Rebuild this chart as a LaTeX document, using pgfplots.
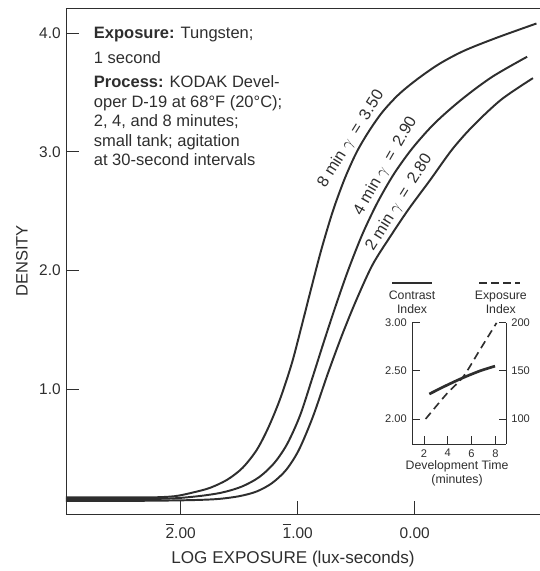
\documentclass[border=0pt]{standalone}
\usepackage{fontspec}
\setmainfont{Liberation Sans}
\usepackage{pgfplots}
\pgfplotsset{compat=1.18}

% digit with a bar over it (negative characteristic of a log)
\newcommand{\bard}[1]{\makebox[0pt][l]{\rule[0.86em]{0.54em}{0.06em}}#1}

\colorlet{ink}{black!82}

\pgfplotsset{
  curve/.style={ink, line width=1.3pt, smooth, tension=0.5},
  inset/.style={
    at={(230.7pt,46.7pt)}, anchor=south west,
    scale only axis, width=62.7pt, height=80.7pt,
    xmin=1, xmax=8.9, clip=false,
    axis line style={ink, line width=0.6pt},
    tick style={ink, line width=0.6pt},
    tick align=inside, major tick length=5pt,
    ticklabel style={font=\fontsize{7.4}{9}\selectfont, text=ink},
  },
}

\begin{document}
\begin{tikzpicture}
\useasboundingbox (-44pt,-38pt) rectangle (316pt,342.67pt);

\begin{axis}[
    at={(0,0)}, anchor=south west,
    scale only axis, width=316pt, height=337.3pt,
    xmin=-2.98, xmax=1.07, ymin=-0.05, ymax=4.21,
    axis x line*=bottom, axis y line*=left,
    axis line style={ink, line width=0.6pt},
    xtick={-2,-1,0}, xticklabels={\bard{2}.00,\bard{1}.00,0.00},
    ytick={1,2,3,4}, yticklabels={1.0,2.0,3.0,4.0},
    tick align=inside, major tick length=9pt,
    tick style={ink, line width=0.6pt},
    ticklabel style={font=\fontsize{10.3}{12}\selectfont, text=ink},
    xticklabel style={text height=0.95em, yshift=-3pt},
    clip=false,
]
% 8 minutes
\addplot[curve] coordinates {
  (-2.98,0.09) (-2.6,0.09) (-2.25,0.09) (-2.05,0.10) (-1.90,0.13) (-1.75,0.17)
  (-1.60,0.24) (-1.47,0.34) (-1.35,0.49) (-1.25,0.68) (-1.15,0.92) (-1.05,1.22)
  (-0.97,1.52) (-0.89,1.83) (-0.80,2.17) (-0.70,2.50) (-0.60,2.77) (-0.50,2.99)
  (-0.40,3.16) (-0.28,3.33) (-0.14,3.48) (0.02,3.61) (0.21,3.74) (0.42,3.85)
  (0.70,3.96) (1.04,4.08)};
% 4 minutes
\addplot[curve] coordinates {
  (-2.98,0.075) (-2.5,0.075) (-2.1,0.08) (-1.85,0.10) (-1.65,0.13) (-1.48,0.18)
  (-1.33,0.26) (-1.20,0.38) (-1.09,0.54) (-0.98,0.78) (-0.88,1.08) (-0.78,1.39)
  (-0.68,1.69) (-0.57,2.00) (-0.45,2.30) (-0.32,2.57) (-0.18,2.81) (-0.02,3.03)
  (0.17,3.24) (0.40,3.44) (0.66,3.63) (0.96,3.80)};
% 2 minutes
\addplot[curve] coordinates {
  (-2.98,0.06) (-2.5,0.06) (-2.0,0.065) (-1.70,0.075) (-1.50,0.10) (-1.35,0.14)
  (-1.22,0.21) (-1.10,0.32) (-0.99,0.49) (-0.87,0.77) (-0.74,1.14) (-0.62,1.46)
  (-0.50,1.75) (-0.36,2.05) (-0.20,2.30) (-0.05,2.52) (0.13,2.76) (0.32,3.02)
  (0.50,3.22) (0.74,3.44) (1.01,3.62)};

\draw[ink, line width=0.6pt] (rel axis cs:0,1) -- (rel axis cs:1,1);

\node[rotate=90, font=\fontsize{11}{13}\selectfont, text=ink]
  at (rel axis cs:-0.093,0.5) {DENSITY};
\node[font=\fontsize{11.4}{13}\selectfont, text=ink]
  at (rel axis cs:0.479,-0.089) {LOG EXPOSURE (lux-seconds)};

\node[anchor=north west, align=left, inner sep=0pt,
      font=\fontsize{11}{13.1}\selectfont, text=ink]
  at (axis cs:-2.744,4.048)
  {\textbf{Exposure:} Tungsten;\\[3.6pt]1 second\\[2.5pt]
   \textbf{Process:} KODAK Devel-\\oper D-19 at 68°F (20°C);\\
   2, 4, and 8 minutes;\\small tank; agitation\\at 30-second intervals};

\tikzset{clab/.style={anchor=south, inner sep=2.5pt,
  font=\fontsize{10.8}{13}\selectfont, text=ink}}
\node[clab, rotate=58] at (axis cs:-0.46,3.056)
  {8 min~$\gamma$\enspace=\enspace3.50};
\node[clab, rotate=60] at (axis cs:-0.165,2.83)
  {4 min~$\gamma$\enspace=\enspace2.90};
\node[clab, rotate=58] at (axis cs:-0.05,2.52)
  {2 min~$\gamma$\enspace=\enspace2.80};
\end{axis}

% inset: contrast index (left scale)
\begin{axis}[inset,
    ymin=1.74, ymax=3.0,
    axis x line*=bottom, axis y line*=left,
    xtick={2,4,6,8}, xticklabels={2,4,6,8},
    ytick={2,2.5,3}, yticklabels={2.00,2.50,3.00},
]
\addplot[ink, line width=1.8pt, smooth] coordinates {
  (2.45,2.26) (3.9,2.35) (5.3,2.43) (6.7,2.50) (7.97,2.55)};
\draw[ink, line width=0.9pt] (rel axis cs:-0.213,1.33) -- (rel axis cs:0.213,1.33);
\node[align=center, font=\fontsize{8.2}{9.4}\selectfont, text=ink]
  at (rel axis cs:0,1.17) {Contrast\\Index};
\draw[ink, line width=0.9pt, dash pattern=on 5pt off 3pt]
  (rel axis cs:0.713,1.33) -- (rel axis cs:1.149,1.33);
\node[align=center, font=\fontsize{8.2}{9.4}\selectfont, text=ink]
  at (rel axis cs:0.944,1.17) {Exposure\\Index};
\node[align=center, font=\fontsize{8.2}{9.4}\selectfont, text=ink]
  at (rel axis cs:0.479,-0.244) {Development Time\\(minutes)};
\end{axis}

% inset: exposure index (right scale)
\begin{axis}[inset,
    ymin=74, ymax=200,
    axis x line=none, axis y line*=right,
    ytick={100,150,200}, yticklabels={100,150,200},
]
\addplot[ink, line width=1.1pt, dash pattern=on 5.3pt off 3.3pt, smooth] coordinates {
  (2.14,100) (3.9,126) (5.3,144) (6.7,172) (8.1,200)};
\end{axis}
\end{tikzpicture}
\end{document}
